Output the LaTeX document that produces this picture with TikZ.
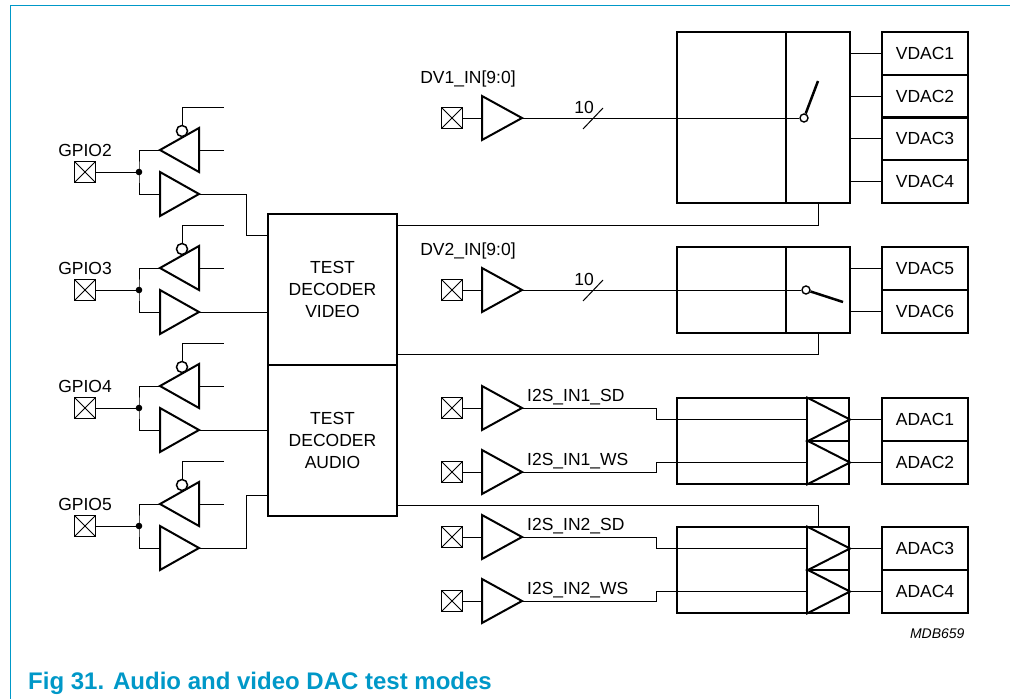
\documentclass[tikz,border=0pt]{standalone}
\usepackage{fontspec}
\setmainfont{Liberation Sans}
\usetikzlibrary{positioning}
\definecolor{nxpblue}{RGB}{0,152,200}
\tikzset{
	wire/.style={line width=1pt},
	thk/.style={line width=2pt},
	pad/.style={draw,line width=1pt,minimum size=21pt,inner sep=0pt,
		path picture={\draw[line width=0.8pt] (path picture bounding box.south west) -- (path picture bounding box.north east) (path picture bounding box.north west) -- (path picture bounding box.south east);}},
	blk/.style={draw,line width=2pt,inner sep=0pt},
	dac/.style={blk,minimum width=86pt,minimum height=43pt},
	pivot/.style={circle,draw,fill=white,line width=1.4pt,minimum size=8pt,inner sep=0pt},
}
\begin{document}
\begin{tikzpicture}[x=1pt,y=-1pt,font=\fontsize{17.5}{22}\selectfont]
	\useasboundingbox (0,0) rectangle (1010,699);
	\draw[nxpblue,line width=1pt] (10.5,699) |- (1010,5.5);
	% decoders
	\node[blk,minimum width=129pt,minimum height=151pt,align=center] (vdec) at (332.5,289.5) {TEST\\DECODER\\VIDEO};
	\node[blk,minimum width=129pt,minimum height=151pt,align=center] (adec) at (332.5,440.5) {TEST\\DECODER\\AUDIO};
	% GPIO pins
	\foreach \n/\y in {2/172,3/290,4/408,5/526}{
		\node[pad] (gpio\n) at (85,\y) {};
		\node at (85,\y-22) {GPIO\n};
		\coordinate (j\n) at (139,\y);
		\coordinate (o\n) at (199,\y+22);
		\draw[thk] (199,\y-44) -- (160,\y-22) -- (199,\y) -- cycle;
		\draw[thk] (160,\y) -- (o\n) -- (160,\y+44) -- cycle;
		\draw[line width=1.5pt] (182,\y-41) circle (5.5);
		\draw[wire] (gpio\n) -- (j\n) (160,\y-22) -| (j\n) |- (160,\y+22);
		\draw[wire] (182,\y-46.5) |- (224,\y-65) (199,\y-22) -- (224,\y-22);
		\fill (j\n) circle (3.3);
	}
	\draw[wire] (o2) -- ++(47,0) |- (vdec.west |- 0,235);
	\draw[wire] (o3) -- (vdec.west |- o3);
	\draw[wire] (o4) -- (adec.west |- o4);
	\draw[wire] (o5) -- ++(47,0) |- (adec.west |- 0,495);
	% video selectors
	\node[blk,minimum width=109pt,minimum height=171pt] (mux1) at (731.5,117.5) {};
	\node[blk,minimum width=64pt,minimum height=171pt] (sw1) at (818,117.5) {};
	\node[blk,minimum width=109pt,minimum height=86pt] (mux2) at (731.5,290) {};
	\node[blk,minimum width=64pt,minimum height=86pt] (sw2) at (818,290) {};
	\foreach \k/\y in {1/53.4,2/96.1,3/138.9,4/181.6}{
		\node[dac] (vdac\k) at (925,\y) {VDAC\k};
		\draw[wire] (sw1.east |- vdac\k) -- (vdac\k);
	}
	\foreach \k/\y in {5/268.5,6/311.5}{
		\node[dac] (vdac\k) at (925,\y) {VDAC\k};
		\draw[wire] (sw2.east |- vdac\k) -- (vdac\k);
	}
	\foreach \n/\y in {1/118,2/290}{
		\node[pad] (dv\n) at (452,\y) {};
		\node at (468,\y-39) {DV\n\_IN[9:0]};
		\coordinate (dvo\n) at (522,\y);
		\draw[thk] (482,\y-22) -- (dvo\n) -- (482,\y+22) -- cycle;
		\draw[wire] (dv\n) -- (482,\y);
		\draw[wire] (583,\y+11) -- (603,\y-10);
		\node at (584,\y-11) {10};
	}
	\node[pivot] (piv1) at (804,118) {};
	\node[pivot] (piv2) at (806,290) {};
	\draw[wire] (dvo1) -- (piv1);
	\draw[wire] (dvo2) -- (piv2);
	\draw[line width=2.5pt] (piv1) -- (818,81);
	\draw[line width=2.5pt] (piv2) -- (843,302);
	% audio selectors
	\node[blk,minimum width=130pt,minimum height=86pt] (amux1) at (742,441) {};
	\node[blk,minimum width=130pt,minimum height=86pt] (amux2) at (742,570) {};
	\foreach \k/\y in {1/419.5,2/462.5,3/548.5,4/591.5}{
		\node[blk,minimum width=42pt,minimum height=43pt] (acell\k) at (828,\y) {};
		\draw[thk] (acell\k.north west) -- (acell\k.east) -- (acell\k.south west);
		\node[dac] (adac\k) at (925,\y) {ADAC\k};
		\draw[wire] (acell\k.east) -- (adac\k);
	}
	\foreach \sig/\y/\k in {IN1\_SD/408/1,IN1\_WS/472/2,IN2\_SD/537/3,IN2\_WS/601/4}{
		\node[pad] (i2s\k) at (452,\y) {};
		\coordinate (io\k) at (522,\y);
		\draw[thk] (482,\y-22) -- (io\k) -- (482,\y+22) -- cycle;
		\draw[wire] (i2s\k) -- (482,\y);
		\node[anchor=west,inner sep=0pt] at (527,\y-11) {I2S\_\sig};
		\draw[wire] (io\k) -- (656,\y) |- (acell\k.west);
	}
	% decoder links
	\draw[wire] (sw1.south) |- (vdec.east |- 0,225);
	\draw[wire] (sw2.south) |- (vdec.east |- 0,354);
	\draw[wire] (adec.east |- 0,505) -| (sw2.south |- acell3.north);
	\node[anchor=east,font=\fontsize{14}{16}\selectfont\itshape] at (968,634) {MDB659};
	\node[anchor=base west,inner sep=0pt,text=nxpblue,font=\fontsize{24}{28}\selectfont\bfseries] at (28,689) {Fig 31. Audio and video DAC test modes};
\end{tikzpicture}
\end{document}
